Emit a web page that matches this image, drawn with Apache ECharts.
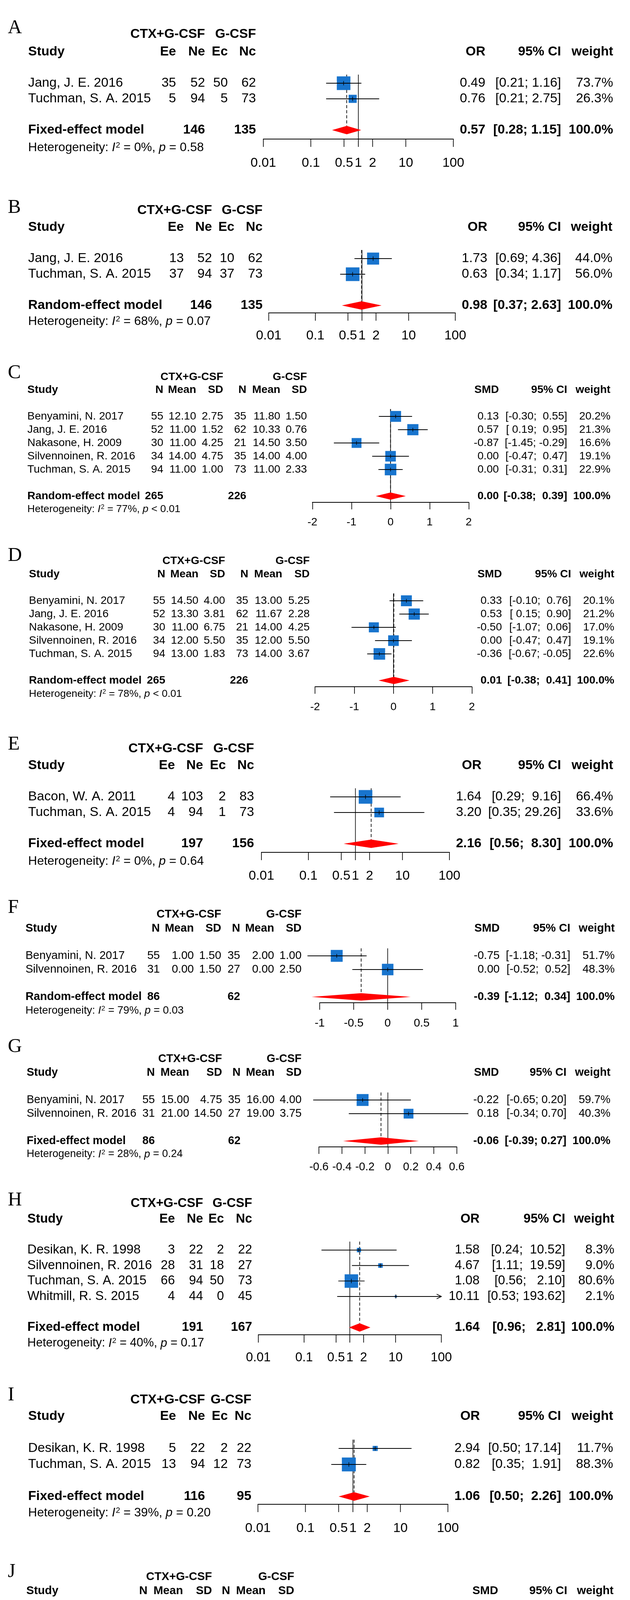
<!DOCTYPE html>
<html>
<head>
<meta charset="utf-8">
<script src="https://cdn.jsdelivr.net/npm/echarts@6/dist/echarts.min.js"></script>
<style>
  html, body { margin: 0; padding: 0; background: #fff; }
  #chart { width: 1612px; height: 4411px; }
</style>
</head>
<body>
<div id="chart"></div>
<script>
// ---------- data ----------
const FIXED = "Fixed-effect model";
const RANDOM = "Random-effect model";
const OR_head = ["Ee", "Ne", "Ec", "Nc"];
const SMD_head = ["N", "Mean", "SD", "N", "Mean", "SD"];
const OR_ticks = [0.01, 0.1, 0.5, 1, 2, 10, 100];

// A
const A_study = ["Jang, J. E. 2016", "Tuchman, S. A. 2015"];
const A_cells = [[35, 52, 50, 62], [5, 94, 5, 73]];
const A_est = [0.49, 0.76];
const A_lo = [0.21, 0.21];
const A_hi = [1.16, 2.75];
const A_weight = [73.7, 26.3];
const A_pooled = [0.57, 0.28, 1.15];
const A_total = [146, 135];
const A_het = ["0%", "= 0.58"];

// B
const B_study = ["Jang, J. E. 2016", "Tuchman, S. A. 2015"];
const B_cells = [[13, 52, 10, 62], [37, 94, 37, 73]];
const B_est = [1.73, 0.63];
const B_lo = [0.69, 0.34];
const B_hi = [4.36, 1.17];
const B_weight = [44.0, 56.0];
const B_pooled = [0.98, 0.37, 2.63];
const B_total = [146, 135];
const B_het = ["68%", "= 0.07"];

// C
const C_study = ["Benyamini, N. 2017", "Jang, J. E. 2016", "Nakasone, H. 2009", "Silvennoinen, R. 2016", "Tuchman, S. A. 2015"];
const C_cells = [[55, 12.10, 2.75, 35, 11.80, 1.50], [52, 11.00, 1.52, 62, 10.33, 0.76], [30, 11.00, 4.25, 21, 14.50, 3.50],
                 [34, 14.00, 4.75, 35, 14.00, 4.00], [94, 11.00, 1.00, 73, 11.00, 2.33]];
const C_est = [0.13, 0.57, -0.87, 0.00, 0.00];
const C_lo = [-0.30, 0.19, -1.45, -0.47, -0.31];
const C_hi = [0.55, 0.95, -0.29, 0.47, 0.31];
const C_weight = [20.2, 21.3, 16.6, 19.1, 22.9];
const C_pooled = [0.00, -0.38, 0.39];
const C_total = [265, 226];
const C_het = ["77%", "< 0.01"];
const C_ticks = [-2, -1, 0, 1, 2];

// D
const D_study = ["Benyamini, N. 2017", "Jang, J. E. 2016", "Nakasone, H. 2009", "Silvennoinen, R. 2016", "Tuchman, S. A. 2015"];
const D_cells = [[55, 14.50, 4.00, 35, 13.00, 5.25], [52, 13.30, 3.81, 62, 11.67, 2.28], [30, 11.00, 6.75, 21, 14.00, 4.25],
                 [34, 12.00, 5.50, 35, 12.00, 5.50], [94, 13.00, 1.83, 73, 14.00, 3.67]];
const D_est = [0.33, 0.53, -0.50, 0.00, -0.36];
const D_lo = [-0.10, 0.15, -1.07, -0.47, -0.67];
const D_hi = [0.76, 0.90, 0.06, 0.47, -0.05];
const D_weight = [20.1, 21.2, 17.0, 19.1, 22.6];
const D_pooled = [0.01, -0.38, 0.41];
const D_total = [265, 226];
const D_het = ["78%", "< 0.01"];
const D_ticks = [-2, -1, 0, 1, 2];

// E
const E_study = ["Bacon, W. A. 2011", "Tuchman, S. A. 2015"];
const E_cells = [[4, 103, 2, 83], [4, 94, 1, 73]];
const E_est = [1.64, 3.20];
const E_lo = [0.29, 0.35];
const E_hi = [9.16, 29.26];
const E_weight = [66.4, 33.6];
const E_pooled = [2.16, 0.56, 8.30];
const E_total = [197, 156];
const E_het = ["0%", "= 0.64"];

// F
const F_study = ["Benyamini, N. 2017", "Silvennoinen, R. 2016"];
const F_cells = [[55, 1.00, 1.50, 35, 2.00, 1.00], [31, 0.00, 1.50, 27, 0.00, 2.50]];
const F_est = [-0.75, 0.00];
const F_lo = [-1.18, -0.52];
const F_hi = [-0.31, 0.52];
const F_weight = [51.7, 48.3];
const F_pooled = [-0.39, -1.12, 0.34];
const F_total = [86, 62];
const F_het = ["79%", "= 0.03"];
const F_ticks = [-1, -0.5, 0, 0.5, 1];

// G
const G_study = ["Benyamini, N. 2017", "Silvennoinen, R. 2016"];
const G_cells = [[55, 15.00, 4.75, 35, 16.00, 4.00], [31, 21.00, 14.50, 27, 19.00, 3.75]];
const G_est = [-0.22, 0.18];
const G_lo = [-0.65, -0.34];
const G_hi = [0.20, 0.70];
const G_weight = [59.7, 40.3];
const G_pooled = [-0.06, -0.39, 0.27];
const G_total = [86, 62];
const G_het = ["28%", "= 0.24"];
const G_ticks = [-0.6, -0.4, -0.2, 0, 0.2, 0.4, 0.6];

// H
const H_study = ["Desikan, K. R. 1998", "Silvennoinen, R. 2016", "Tuchman, S. A. 2015", "Whitmill, R. S. 2015"];
const H_cells = [[3, 22, 2, 22], [28, 31, 18, 27], [66, 94, 50, 73], [4, 44, 0, 45]];
const H_est = [1.58, 4.67, 1.08, 10.11];
const H_lo = [0.24, 1.11, 0.56, 0.53];
const H_hi = [10.52, 19.59, 2.10, 193.62];
const H_weight = [8.3, 9.0, 80.6, 2.1];
const H_pooled = [1.64, 0.96, 2.81];
const H_total = [191, 167];
const H_het = ["40%", "= 0.17"];

// I
const I_study = ["Desikan, K. R. 1998", "Tuchman, S. A. 2015"];
const I_cells = [[5, 22, 2, 22], [13, 94, 12, 73]];
const I_est = [2.94, 0.82];
const I_lo = [0.50, 0.35];
const I_hi = [17.14, 1.91];
const I_weight = [11.7, 88.3];
const I_pooled = [1.06, 0.50, 2.26];
const I_total = [116, 95];
const I_het = ["39%", "= 0.20"];

// J
const J_study = ["Skerget, M. 2016", "Valtola, J. 2016"];
const J_cells = [[9, 0.31, 0.22, 20, 0.47, 0.23], [15, 0.98, 0.83, 15, 1.12, 0.69]];
const J_est = [-0.68, -0.19];
const J_lo = [-1.49, -0.91];
const J_hi = [0.12, 0.53];
const J_weight = [44.0, 56.0];
const J_pooled = [-0.41, -0.95, 0.13];
const J_total = [24, 35];
const J_het = ["0%", "= 0.37"];
const J_ticks = [-1.5, -1, -0.5, 0, 0.5, 1];

const panels = [
  { tag: "A", measure: "OR", model: FIXED, study: A_study, cells: A_cells, est: A_est, lo: A_lo, hi: A_hi, weight: A_weight, pooled: A_pooled, total: A_total, het: A_het, ticks: OR_ticks },
  { tag: "B", measure: "OR", model: RANDOM, study: B_study, cells: B_cells, est: B_est, lo: B_lo, hi: B_hi, weight: B_weight, pooled: B_pooled, total: B_total, het: B_het, ticks: OR_ticks },
  { tag: "C", measure: "SMD", model: RANDOM, study: C_study, cells: C_cells, est: C_est, lo: C_lo, hi: C_hi, weight: C_weight, pooled: C_pooled, total: C_total, het: C_het, ticks: C_ticks },
  { tag: "D", measure: "SMD", model: RANDOM, study: D_study, cells: D_cells, est: D_est, lo: D_lo, hi: D_hi, weight: D_weight, pooled: D_pooled, total: D_total, het: D_het, ticks: D_ticks },
  { tag: "E", measure: "OR", model: FIXED, study: E_study, cells: E_cells, est: E_est, lo: E_lo, hi: E_hi, weight: E_weight, pooled: E_pooled, total: E_total, het: E_het, ticks: OR_ticks },
  { tag: "F", measure: "SMD", model: RANDOM, study: F_study, cells: F_cells, est: F_est, lo: F_lo, hi: F_hi, weight: F_weight, pooled: F_pooled, total: F_total, het: F_het, ticks: F_ticks },
  { tag: "G", measure: "SMD", model: FIXED, study: G_study, cells: G_cells, est: G_est, lo: G_lo, hi: G_hi, weight: G_weight, pooled: G_pooled, total: G_total, het: G_het, ticks: G_ticks },
  { tag: "H", measure: "OR", model: FIXED, study: H_study, cells: H_cells, est: H_est, lo: H_lo, hi: H_hi, weight: H_weight, pooled: H_pooled, total: H_total, het: H_het, ticks: OR_ticks },
  { tag: "I", measure: "OR", model: FIXED, study: I_study, cells: I_cells, est: I_est, lo: I_lo, hi: I_hi, weight: I_weight, pooled: I_pooled, total: I_total, het: I_het, ticks: OR_ticks },
  { tag: "J", measure: "SMD", model: FIXED, study: J_study, cells: J_cells, est: J_est, lo: J_lo, hi: J_hi, weight: J_weight, pooled: J_pooled, total: J_total, het: J_het, ticks: J_ticks }
];

// ---------- page layout (pixels; x values get the KX correction below) ----------
const KX = 0.988;
const layout = {
  A: { letter: 72, ctx: 88, hdr: 133, pitch: 40, axisY: 356, het: 378, tickY: 418, x0: 682, x1: 1174, sx: 73, cols: [456, 531, 590, 663], eff: 1257, ci: 1453, w: 1588, fs: 34 },
  B: { letter: 532, ctx: 539, hdr: 582, pitch: 40, axisY: 801, het: 823, tickY: 860, x0: 696, x1: 1179, sx: 73, cols: [476, 549, 607, 680], eff: 1262, ci: 1453, w: 1586, fs: 34 },
  C: { letter: 955, ctx: 965, hdr: 998, pitch: 34, axisY: 1286, het: 1304, tickY: 1337, x0: 809, x1: 1214, sx: 71, cols: [423, 508, 578, 638, 726, 795], eff: 1292, ci: 1469, w: 1581, fs: 28.5 },
  D: { letter: 1423, ctx: 1436, hdr: 1470, pitch: 34, axisY: 1758, het: 1777, tickY: 1810, x0: 816, x1: 1222, sx: 75, cols: [428, 514, 583, 643, 731, 802], eff: 1300, ci: 1479, w: 1591, fs: 28.5 },
  E: { letter: 1906, ctx: 1917, hdr: 1960, pitch: 40, axisY: 2182, het: 2205, tickY: 2243, x0: 677, x1: 1164, sx: 73, cols: [453, 526, 585, 658], eff: 1247, ci: 1453, w: 1588, fs: 34 },
  F: { letter: 2324, ctx: 2341, hdr: 2377, pitch: 35, axisY: 2567, het: 2587, tickY: 2620, x0: 828, x1: 1180, sx: 66, cols: [414, 502, 573, 622, 710, 781], eff: 1294, ci: 1477, w: 1592, fs: 29.5 },
  G: { letter: 2680, ctx: 2711, hdr: 2746, pitch: 35, axisY: 2936, het: 2955, tickY: 2988, x0: 826, x1: 1183, sx: 69, cols: [401, 490, 575, 623, 711, 781], eff: 1292, ci: 1467, w: 1581, fs: 29 },
  H: { letter: 3073, ctx: 3081, hdr: 3121, pitch: 39.6, axisY: 3417, het: 3439, tickY: 3476, x0: 669, x1: 1143, sx: 71, cols: [453, 526, 580, 653], eff: 1242, ci: 1464, w: 1591, fs: 33 },
  I: { letter: 3572, ctx: 3584, hdr: 3626, pitch: 41, axisY: 3851, het: 3873, tickY: 3913, x0: 668, x1: 1160, sx: 73, cols: [456, 531, 590, 651], eff: 1243, ci: 1453, w: 1588, fs: 34 },
  J: { letter: 4024, ctx: 4037, hdr: 4073, pitch: 36, axisY: 4271, het: 4290, tickY: 4325, x0: 777, x1: 1206, sx: 68, cols: [382, 474, 549, 596, 688, 762], eff: 1290, ci: 1469, w: 1589, fs: 30 }
};

function fixX(L) {
  const k = function (v) { return Math.round(v * KX * 10) / 10; };
  return Object.assign({}, L, {
    x0: k(L.x0), x1: k(L.x1), sx: k(L.sx), cols: L.cols.map(k),
    eff: k(L.eff), ci: k(L.ci), w: k(L.w), fs: Math.round(L.fs * KX * 10) / 10
  });
}

const FAMILY = '"Liberation Sans", Arial, sans-serif';
const BOX = "#1874CD";
const DIAMOND = "#FF0000";

function font(size, bold, italic) {
  return (italic ? "italic " : "") + (bold ? "bold " : "") + size + "px " + FAMILY;
}

function label(x, y, s, f, align, extra) {
  const style = {
    text: s, font: f, fill: "#000",
    align: align, textAlign: align,
    verticalAlign: "middle", textVerticalAlign: "middle"
  };
  if (extra) Object.assign(style, extra);
  return { type: "text", x: x, y: y, silent: true, z: 10, style: style };
}

const grids = [], xAxes = [], yAxes = [], series = [], texts = [];

panels.forEach(function (p, i) {
  const L = fixX(layout[p.tag]);
  const isOR = p.measure === "OR";
  const n = p.study.length;
  const sumRow = n + 3;
  const yMax = (L.axisY - L.hdr) / L.pitch;
  const wmax = Math.max.apply(null, p.weight);
  const xmin = p.ticks[0];
  const xmax = p.ticks[p.ticks.length - 1];
  const nullVal = isOR ? 1 : 0;
  const refTop = 1.45;
  const dHalf = 0.27;

  grids.push({ left: L.x0, top: L.hdr, width: L.x1 - L.x0, height: L.axisY - L.hdr, containLabel: false, outerBoundsMode: "none" });
  yAxes.push({ gridIndex: i, type: "value", inverse: true, min: 0, max: yMax, show: false });

  const axisLine = { show: true, onZero: false, lineStyle: { color: "#000", width: 2.2 } };
  if (isOR) {
    xAxes.push({
      gridIndex: i, type: "log", logBase: 10, min: xmin, max: xmax, position: "bottom",
      axisLine: axisLine, axisTick: { show: false }, axisLabel: { show: false }, splitLine: { show: false }
    });
    // ticks at 0.01 0.1 0.5 1 2 10 100 placed through the log scale
    series.push({
      type: "custom", xAxisIndex: i, yAxisIndex: i, clip: false, silent: true, z: 2,
      data: p.ticks.map(function (t) { return [t, yMax]; }),
      encode: { x: 0, y: 1 },
      renderItem: function (params, api) {
        const v = api.value(0);
        const c = api.coord([v, api.value(1)]);
        return {
          type: "group", children: [
            { type: "line", shape: { x1: c[0], y1: c[1], x2: c[0], y2: c[1] + 20 }, style: { stroke: "#000", lineWidth: 1.7 } },
            { type: "text", x: c[0], y: L.tickY, style: { text: String(v), font: font(L.fs), fill: "#000", align: "center", textAlign: "center", verticalAlign: "middle", textVerticalAlign: "middle" } }
          ]
        };
      }
    });
  } else {
    xAxes.push({
      gridIndex: i, type: "value", min: xmin, max: xmax,
      interval: Math.round((p.ticks[1] - p.ticks[0]) * 1e6) / 1e6, position: "bottom",
      axisLine: axisLine,
      axisTick: { show: true, length: 18, lineStyle: { color: "#000", width: 1.7 } },
      axisLabel: { show: true, margin: L.tickY - L.axisY - L.fs / 2, fontSize: L.fs, lineHeight: L.fs, fontFamily: FAMILY, color: "#000" },
      splitLine: { show: false }
    });
  }

  // null line, pooled (dashed) line and summary diamond
  series.push({
    type: "custom", xAxisIndex: i, yAxisIndex: i, clip: false, silent: true, z: 3,
    data: [[p.pooled[0], sumRow, p.pooled[1], p.pooled[2]]],
    encode: { x: 0, y: 1 },
    renderItem: function (params, api) {
      const est = api.value(0), row = api.value(1), lo = api.value(2), hi = api.value(3);
      const r0 = api.coord([nullVal, refTop]);
      const r1 = api.coord([nullVal, yMax]);
      const d0 = api.coord([est, refTop]);
      const d1 = api.coord([est, row - dHalf]);
      const pts = [
        api.coord([lo, row]), api.coord([est, row - dHalf]),
        api.coord([hi, row]), api.coord([est, row + dHalf])
      ];
      return {
        type: "group", children: [
          { type: "line", shape: { x1: r0[0], y1: r0[1], x2: r1[0], y2: r1[1] }, style: { stroke: "#000", lineWidth: 1.6 } },
          { type: "line", shape: { x1: d0[0], y1: d0[1], x2: d1[0], y2: d1[1] }, style: { stroke: "#000", lineWidth: 1.7, lineDash: [8, 5] } },
          { type: "polygon", shape: { points: pts }, style: { fill: DIAMOND } }
        ]
      };
    }
  });

  // study squares + confidence intervals
  series.push({
    type: "custom", xAxisIndex: i, yAxisIndex: i, clip: false, silent: true, z: 4,
    data: p.est.map(function (e, k) { return [e, k + 2, p.lo[k], p.hi[k], p.weight[k]]; }),
    encode: { x: 0, y: 1 },
    renderItem: function (params, api) {
      const est = api.value(0), row = api.value(1), lo = api.value(2), hi = api.value(3), w = api.value(4);
      const c = api.coord([est, row]);
      const rowPx = api.coord([est, row + 1])[1] - c[1];
      const side = 0.87 * rowPx * Math.sqrt(w / wmax);
      const xl = api.coord([lo, row])[0];
      const over = isOR && hi > xmax;
      const xr = api.coord([over ? xmax : hi, row])[0];
      const tick = 0.14 * rowPx;
      const kids = [
        { type: "rect", shape: { x: c[0] - side / 2, y: c[1] - side / 2, width: side, height: side }, style: { fill: BOX } },
        { type: "line", shape: { x1: xl, y1: c[1], x2: xr, y2: c[1] }, style: { stroke: "#000", lineWidth: 1.9 } },
        { type: "line", shape: { x1: c[0], y1: c[1] - tick, x2: c[0], y2: c[1] + tick }, style: { stroke: "#000", lineWidth: 1.4 } }
      ];
      if (over) {
        kids.push({ type: "polyline", shape: { points: [[xr - 12, c[1] - 6], [xr, c[1]], [xr - 12, c[1] + 6]] }, style: { stroke: "#000", lineWidth: 1.8, fill: null } });
      }
      return { type: "group", children: kids };
    }
  });

  // ---------- table text ----------
  const heads = isOR ? OR_head : SMD_head;
  const fs = L.fs;
  const rowY = function (r) { return L.hdr + r * L.pitch; };

  texts.push(label(20, L.letter, p.tag, '50px "Liberation Serif", "Times New Roman", serif', "left"));
  texts.push(label(L.cols[isOR ? 1 : 2], L.ctx, "CTX+G-CSF", font(fs, true), "right"));
  texts.push(label(L.cols[isOR ? 3 : 5], L.ctx, "G-CSF", font(fs, true), "right"));

  texts.push(label(L.sx, L.hdr, "Study", font(fs, true), "left"));
  heads.forEach(function (h, c) { texts.push(label(L.cols[c], L.hdr, h, font(fs, true), "right")); });
  texts.push(label(L.eff, L.hdr, p.measure, font(fs, true), "right"));
  texts.push(label(L.ci, L.hdr, "95% CI", font(fs, true), "right"));
  texts.push(label(L.w, L.hdr, "weight", font(fs, true), "right"));

  // CI strings padded the way R's meta package pads them
  const loS = p.lo.concat([p.pooled[1]]).map(function (v) { return v.toFixed(2); });
  const hiS = p.hi.concat([p.pooled[2]]).map(function (v) { return v.toFixed(2); });
  const wl = Math.max.apply(null, loS.map(function (s) { return s.length; }));
  const wh = Math.max.apply(null, hiS.map(function (s) { return s.length; }));
  const ciText = loS.map(function (s, k) { return "[" + s.padStart(wl) + "; " + hiS[k].padStart(wh) + "]"; });

  p.study.forEach(function (name, k) {
    const y = rowY(k + 2);
    texts.push(label(L.sx, y, name, font(fs), "left"));
    p.cells[k].forEach(function (v, c) {
      const s = (isOR || c === 0 || c === 3) ? String(v) : v.toFixed(2);
      texts.push(label(L.cols[c], y, s, font(fs), "right"));
    });
    texts.push(label(L.eff, y, p.est[k].toFixed(2), font(fs), "right"));
    texts.push(label(L.ci, y, ciText[k], font(fs), "right"));
    texts.push(label(L.w, y, p.weight[k].toFixed(1) + "%", font(fs), "right"));
  });

  const ys = rowY(sumRow);
  texts.push(label(L.sx, ys, p.model, font(fs, true), "left"));
  texts.push(label(L.cols[isOR ? 1 : 0], ys, String(p.total[0]), font(fs, true), "right"));
  texts.push(label(L.cols[3], ys, String(p.total[1]), font(fs, true), "right"));
  texts.push(label(L.eff, ys, p.pooled[0].toFixed(2), font(fs, true), "right"));
  texts.push(label(L.ci, ys, ciText[n], font(fs, true), "right"));
  texts.push(label(L.w, ys, "100.0%", font(fs, true), "right"));

  const hf = Math.round(fs * 0.94 * 10) / 10;
  texts.push(label(L.sx, L.het,
    "Heterogeneity: {i|I}{s|2} = " + p.het[0] + ", {i|p} " + p.het[1],
    font(hf), "left",
    { rich: {
        i: { font: font(hf, false, true), fill: "#000" },
        s: { font: font(Math.round(hf * 0.62)), fill: "#000", verticalAlign: "top", padding: [0, 0, 0, 1] }
    } }));
});

const chart = echarts.init(document.getElementById("chart"), null, { renderer: "canvas", width: 1612, height: 4411 });
chart.setOption({
  backgroundColor: "#fff",
  animation: false,
  grid: grids,
  xAxis: xAxes,
  yAxis: yAxes,
  series: series,
  graphic: { elements: texts }
});
</script>
</body>
</html>
